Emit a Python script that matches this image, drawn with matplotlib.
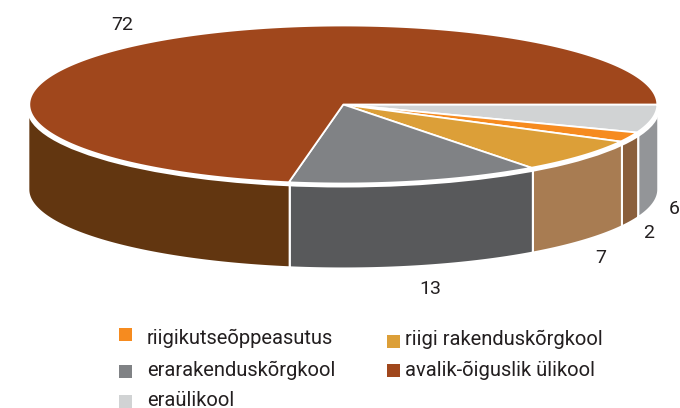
import numpy as np
import matplotlib
matplotlib.use('Agg')
import matplotlib.pyplot as plt
from matplotlib.patches import Polygon, Ellipse, Rectangle

# values, clockwise from the right hand edge of the pie
categories = ['eraülikool', 'riigikutseõppeasutus', 'riigi rakenduskõrgkool',
              'erarakenduskõrgkool', 'avalik-õiguslik ülikool']
values = [6, 2, 7, 13, 72]
top_colors = ['#d1d3d4', '#f68b1f', '#dc9f38', '#808285', '#a0471c']
side_colors = ['#939598', '#8a5f3c', '#a87c52', '#58595b', '#623610']

CX, CY = 343.3, 104.5
RX, RY = 314, 79
DEPTH = 85
TOP_SHIFT = -0.8   # the source drawing is rotated a little
SIDE_SHIFT = -1.0

plt.rcParams['font.family'] = ['Roboto', 'DejaVu Sans']
fig = plt.figure(figsize=(6.8, 4.08), dpi=100)
ax = fig.add_axes([0, 0, 1, 1])
ax.set_xlim(0, 680)
ax.set_ylim(408, 0)
ax.axis('off')


def rim(a0, a1, rx=RX, ry=RY, cy=CY):
    t = np.radians(np.linspace(a0, a1, 200))
    return np.column_stack([CX + rx * np.cos(t), cy + ry * np.sin(t)])


# start and end angle of each slice
edges = np.concatenate([[0], np.cumsum(values)]) * 3.6
top_edges = edges.copy()
top_edges[1:-1] += TOP_SHIFT
side_edges = edges.copy()
side_edges[1:-1] += SIDE_SHIFT

# side wall, only the front half shows
for i in range(len(values)):
    a0, a1 = side_edges[i], min(side_edges[i + 1], 180)
    upper = rim(a0, a1, rx=315)
    lower = upper + [0, DEPTH]
    pts = np.vstack([upper, lower[::-1]])
    ax.add_patch(Polygon(pts, closed=True, facecolor=side_colors[i],
                         edgecolor='white', linewidth=1.5, zorder=1))

# white band between top and wall
ax.add_patch(Ellipse((CX, CY + 4), 2 * 316.5, 2 * RY, facecolor='white',
                     edgecolor='none', zorder=2))

# top of the pie
for i in range(len(values)):
    pts = np.vstack([[CX, CY], rim(top_edges[i], top_edges[i + 1])])
    ax.add_patch(Polygon(pts, closed=True, facecolor=top_colors[i],
                         edgecolor='white', linewidth=1.3, joinstyle='round', zorder=3))

# value labels
label_x = [674, 649, 601, 430, 122]
label_y = [209, 233, 258, 289, 25]
for x, y, v in zip(label_x, label_y, values):
    ax.text(x, y, str(v), ha='center', va='center', fontsize=14, color='#231f20')

# legend
legend_order = [1, 2, 3, 4, 0]
box_x = [119, 387, 119, 387, 119]
box_y = [328, 335, 365, 364, 395]
text_x = [147, 405, 147, 405, 147]
text_y = [338, 339, 370, 370, 400]
for k, i in enumerate(legend_order):
    ax.add_patch(Rectangle((box_x[k], box_y[k]), 13, 13, facecolor=top_colors[i], edgecolor='none'))
    ax.text(text_x[k], text_y[k], categories[i], ha='left', va='center', fontsize=14.5, color='#231f20')

fig.savefig('out.png', dpi=100)
